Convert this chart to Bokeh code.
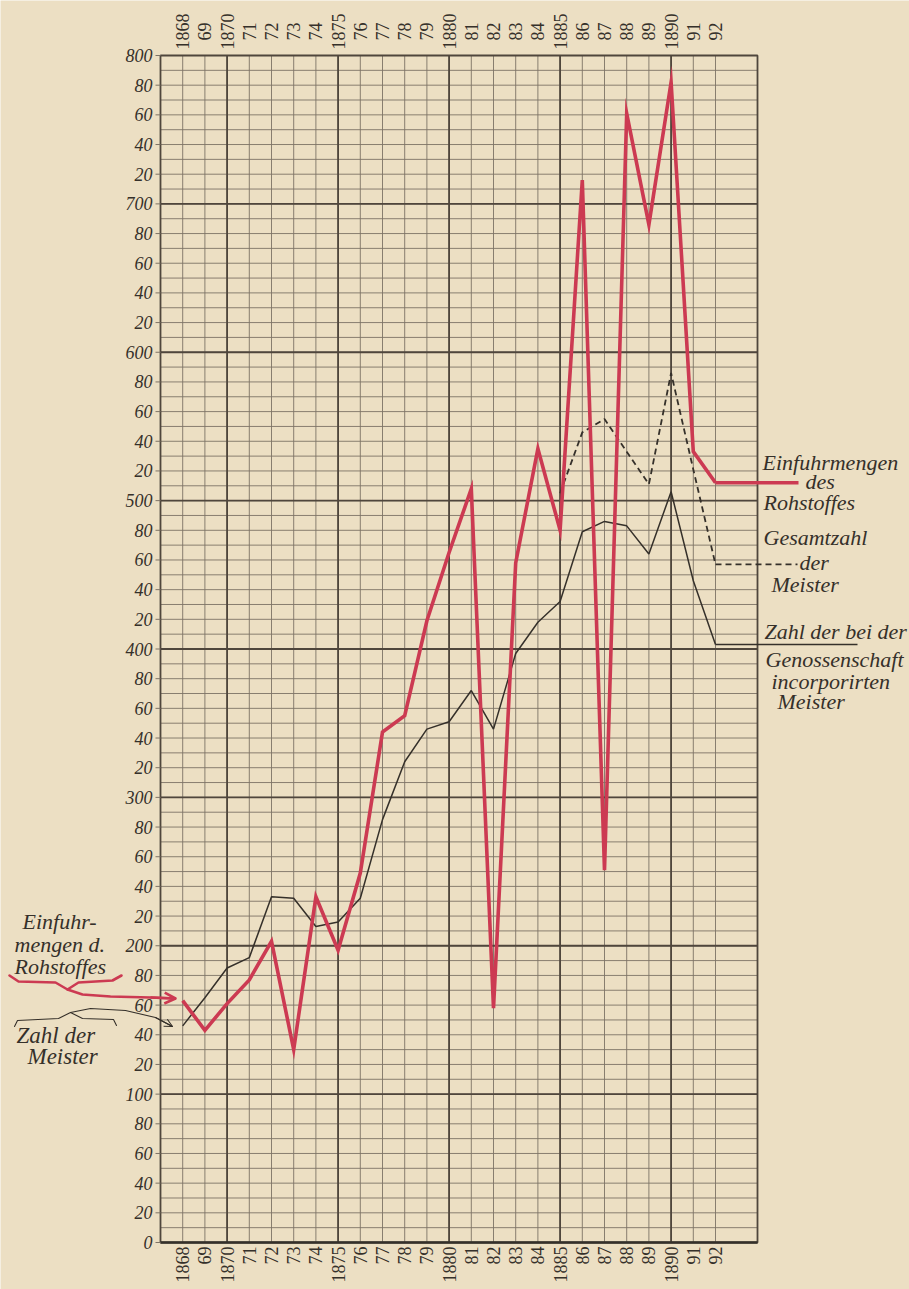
from math import pi
from bokeh.plotting import figure
from bokeh.models import Range1d, Arrow, OpenHead
from bokeh.core.properties import value
from bokeh.embed import file_html
from bokeh.resources import INLINE

# ---------------- data ----------------
years = [1868, 1869, 1870, 1871, 1872, 1873, 1874, 1875, 1876, 1877, 1878, 1879,
         1880, 1881, 1882, 1883, 1884, 1885, 1886, 1887, 1888, 1889, 1890, 1891, 1892]
year_labels = ["1868", "69", "1870", "71", "72", "73", "74", "1875", "76", "77", "78", "79",
               "1880", "81", "82", "83", "84", "1885", "86", "87", "88", "89", "1890", "91", "92"]
# Einfuhrmengen des Rohstoffes (red)
einfuhr = [163, 143, 161, 177, 203, 130, 233, 197, 249, 344, 355, 419,
           465, 508, 158, 458, 535, 480, 716, 251, 761, 686, 782, 533, 512]
# Zahl der bei der Genossenschaft incorporirten Meister (thin black)
meister_inc = [146, 165, 185, 192, 233, 232, 213, 216, 232, 285, 324, 346,
               351, 372, 346, 397, 418, 432, 479, 486, 483, 464, 506, 446, 403]
# Gesamtzahl der Meister (dashed)
gesamt_years = [1885, 1886, 1887, 1888, 1889, 1890, 1891, 1892]
meister_gesamt = [505, 546, 555, 533, 511, 586, 521, 457]

y_ticks = list(range(0, 801, 20))
y_tick_labels = ["0", "20", "40", "60", "80",
                 "100", "20", "40", "60", "80",
                 "200", "20", "40", "60", "80",
                 "300", "20", "40", "60", "80",
                 "400", "20", "40", "60", "80",
                 "500", "20", "40", "60", "80",
                 "600", "20", "40", "60", "80",
                 "700", "20", "40", "60", "80",
                 "800"]
grid_vals = list(range(10, 800, 10))
major_years = [1870, 1875, 1880, 1885, 1890]
major_vals = [100, 200, 300, 400, 500, 600, 700]

# ---------------- styling ----------------
PAPER = "#ecdfc3"
INK = "#35302a"
GRID = "#7d7366"
GRID_BOLD = "#4f463c"
RED = "#cc3a52"
SERIF = "Liberation Serif"

W, H = 909, 1289
PX_PER_YEAR = 22.2
PX_PER_UNIT = 1187 / 800.0
X0, X1 = 1867, 1867 + 597 / PX_PER_YEAR   # chart area in data units
Y0, Y1 = 0, 800


def X(px):
    """page-pixel x -> data x"""
    return 1867 + (px - 160) / PX_PER_YEAR


def Y(py):
    """page-pixel y -> data y"""
    return (1242 - py) / PX_PER_UNIT


p = figure(width=W, height=H,
           x_range=Range1d(X(0), X(W)), y_range=Range1d(Y(H), Y(0)),
           output_backend="svg", toolbar_location=None,
           min_border_left=0, min_border_right=0, min_border_top=0, min_border_bottom=0)
p.axis.visible = False
p.grid.visible = False
p.outline_line_color = None
p.background_fill_color = PAPER
p.border_fill_color = PAPER

# ---- chart grid ----
p.segment(x0=years, y0=[Y0] * len(years), x1=years, y1=[Y1] * len(years),
          line_color=GRID, line_width=1, line_alpha=0.9)
p.segment(x0=[X0] * len(grid_vals), y0=grid_vals, x1=[X1] * len(grid_vals), y1=grid_vals,
          line_color=GRID, line_width=1, line_alpha=0.9)
p.segment(x0=major_years, y0=[Y0] * len(major_years), x1=major_years, y1=[Y1] * len(major_years),
          line_color=GRID_BOLD, line_width=1.8)
p.segment(x0=[X0] * len(major_vals), y0=major_vals, x1=[X1] * len(major_vals), y1=major_vals,
          line_color=GRID_BOLD, line_width=1.8)
p.quad(left=[X0], right=[X1], bottom=[Y0], top=[Y1], fill_color=None,
       line_color=GRID_BOLD, line_width=1.8)
p.segment(x0=[X0], y0=[Y0], x1=[X1], y1=[Y0], line_color=INK, line_width=2.4)

# ---- y ticks & labels ----
p.segment(x0=[X(155)] * len(y_ticks), y0=y_ticks, x1=[X0] * len(y_ticks), y1=y_ticks,
          line_color=GRID, line_width=1)
p.text(x=[X(152)] * len(y_ticks), y=y_ticks, text=y_tick_labels,
       text_align="right", text_baseline="middle", text_font=value(SERIF),
       text_font_style="italic", text_font_size=value("18px"), text_color=INK)

# ---- year labels (top and bottom) ----
p.text(x=years, y=[Y(1246)] * len(years), text=year_labels, angle=pi / 2,
       text_align="right", text_baseline="middle", text_font=value(SERIF),
       text_font_size=value("18px"), text_color=INK)
p.text(x=years, y=[Y(31)] * len(years), text=year_labels, angle=pi / 2,
       text_align="center", text_baseline="middle", text_font=value(SERIF),
       text_font_size=value("18px"), text_color=INK)

# ---- series ----
p.line(years, meister_inc, line_color=INK, line_width=1.5)
p.line(gesamt_years, meister_gesamt, line_color=INK, line_width=1.8, line_dash="6 4")
p.line(years, einfuhr, line_color=RED, line_width=3.6, line_join="miter")

# continuation lines to the right-hand labels
p.line([years[-1], X(798)], [einfuhr[-1], einfuhr[-1]], line_color=RED, line_width=3.6)
p.line([gesamt_years[-1], X(797)], [meister_gesamt[-1], meister_gesamt[-1]],
       line_color=INK, line_width=1.8, line_dash="6 4")
p.line([years[-1], X(857)], [meister_inc[-1], meister_inc[-1]], line_color=INK, line_width=1.5)


def note(txt, px, py, size="22px"):
    p.text(x=[X(px)], y=[Y(py)], text=[txt], text_font=value(SERIF),
           text_font_style="italic", text_font_size=value(size),
           text_color=INK, text_align="left", text_baseline="middle")


# right side labels
note("Einfuhrmengen", 762, 462)
note("des", 805, 481)
note("Rohstoffes", 763, 502)
note("Gesamtzahl", 763, 537)
note("der", 799, 562)
note("Meister", 771, 584)
note("Zahl der bei der", 764, 631)
note("Genossenschaft", 765, 659)
note("incorporirten", 771, 681)
note("Meister", 777, 701)

# left side labels
note("Einfuhr-", 22, 921)
note("mengen d.", 14, 944)
note("Rohstoffes", 14, 966)
note("Zahl der", 16, 1035, "23px")
note("Meister", 27, 1056, "23px")


def path(pts, color, width, head=None):
    p.line([X(a) for a, _ in pts], [Y(b) for _, b in pts], line_color=color,
           line_width=width, line_join="round", line_cap="round")
    if head is not None:
        (x0, y0), (x1, y1) = pts[-2], pts[-1]
        p.add_layout(Arrow(end=head, x_start=X(x0), y_start=Y(y0), x_end=X(x1), y_end=Y(y1),
                           line_color=color, line_width=width))


# red brace + arrow
path([(9, 975), (18, 981), (55, 982), (67, 989), (78, 982), (112, 980), (121, 975)], RED, 2.6)
path([(67, 989), (82, 994), (110, 996), (150, 997), (175, 998)], RED, 2.6,
     OpenHead(size=11, line_color=RED, line_width=2.6))
# black brace + arrow
path([(14, 1026), (17, 1020), (58, 1018), (70, 1012), (82, 1018), (113, 1019), (116, 1025)], INK, 1.1)
path([(70, 1012), (90, 1008), (125, 1010), (155, 1017), (172, 1026)], INK, 1.1,
     OpenHead(size=8, line_color=INK, line_width=1.1))

open("out.html", "w").write(file_html(p, INLINE))
